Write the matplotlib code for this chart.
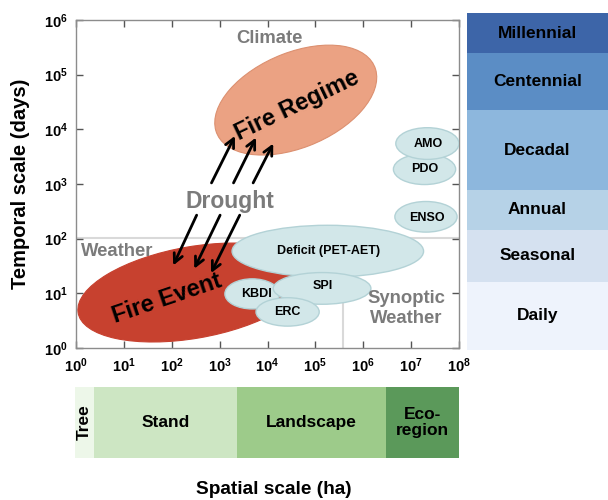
import matplotlib
matplotlib.use('Agg')
import matplotlib.pyplot as plt
from matplotlib.patches import Ellipse

plt.rcParams['font.family'] = ['Liberation Sans', 'DejaVu Sans']
plt.rcParams['font.weight'] = 'bold'
plt.rcParams['mathtext.fontset'] = 'custom'
plt.rcParams['mathtext.rm'] = 'Liberation Sans:bold'
plt.rcParams['mathtext.it'] = 'Liberation Sans:bold'
plt.rcParams['mathtext.bf'] = 'Liberation Sans:bold'

# log10 of spatial scale (ha) and temporal scale (days)
x_decades = list(range(0, 9))
y_decades = list(range(0, 7))

# fire ellipses: centre, extent (decades) and tilt
fire_names = ['Fire Event', 'Fire Regime']
fire_x = [2.445, 4.59]
fire_y = [1.015, 4.535]
fire_w = [4.86, 3.52]
fire_h = [1.68, 1.76]
fire_ang = [8.5, 18.6]
fire_label_x = [1.90, 4.61]
fire_label_y = [0.91, 4.44]
fire_label_rot = [18.7, 25.5]

# drought indices / climate modes
idx_names = ['Deficit (PET-AET)', 'KBDI', 'SPI', 'ERC', 'ENSO', 'PDO', 'AMO']
idx_x = [5.26, 3.68, 5.14, 4.42, 7.31, 7.28, 7.34]
idx_y = [1.77, 0.99, 1.09, 0.66, 2.40, 3.27, 3.74]
idx_w = [4.00, 1.14, 2.04, 1.32, 1.30, 1.30, 1.32]
idx_h = [0.95, 0.55, 0.58, 0.52, 0.56, 0.56, 0.58]
idx_label_x = [5.27, 3.76, 5.15, 4.41, 7.32, 7.28, 7.35]
idx_label_y = [1.77, 0.98, 1.13, 0.65, 2.37, 3.27, 3.73]

# drought arrows (log10 ha, log10 days)
up_x0 = [2.83, 3.29, 3.70]
up_y0 = [3.02, 3.02, 3.02]
up_x1 = [3.32, 3.76, 4.12]
up_y1 = [3.88, 3.85, 3.74]
down_x0 = [2.52, 3.01, 3.42]
down_y0 = [2.43, 2.43, 2.43]
down_x1 = [2.03, 2.47, 2.82]
down_y1 = [1.51, 1.45, 1.37]

# domain boundaries
weather_climate_y = 2.02
synoptic_x = 5.57

# temporal bands
time_names = ['Daily', 'Seasonal', 'Annual', 'Decadal', 'Centennial', 'Millennial']
time_edges = [-0.037, 1.21, 2.16, 2.89, 4.35, 5.39, 6.128]
time_colors = ['#eef3fc', '#d5e1f0', '#b6d2e7', '#8db7dd', '#5b8dc5', '#3d65a8']

# spatial bands
space_names = ['Tree', 'Stand', 'Landscape', 'Eco-\nregion']
space_edges = [-0.02, 0.38, 3.36, 6.47, 8.0]
space_colors = ['#edf7e9', '#cde6c3', '#9dcb8a', '#5b995a']

gray = '#7b7b7b'
blue_fill = '#d2e7e9'
blue_edge = '#b3d2d6'

fig = plt.figure(figsize=(6.08, 5.0), dpi=100)

# right temporal bar
ax2 = fig.add_axes([0.768, 0.30, 0.232, 0.674])
for i, name in enumerate(time_names):
    lo, hi = time_edges[i], time_edges[i + 1]
    ax2.bar(0.5, hi - lo, bottom=lo, width=1, color=time_colors[i], edgecolor='none')
    ax2.text(0.5, (lo + hi) / 2, name, ha='center', va='center', fontsize=12.5,
             fontweight='bold', color='black')
ax2.set_xlim(0, 1)
ax2.set_ylim(time_edges[0], time_edges[-1])
ax2.axis('off')

# bottom spatial bar
ax3 = fig.add_axes([75 / 608, 0.084, 384 / 608, 0.142])
for i, name in enumerate(space_names):
    lo, hi = space_edges[i], space_edges[i + 1]
    ax3.barh(0.5, hi - lo, left=lo, height=1, color=space_colors[i], edgecolor='none')
    ax3.text((lo + hi) / 2, 0.5, name, ha='center', va='center', fontsize=12.5,
             fontweight='bold', rotation=90 if name == 'Tree' else 0,
             linespacing=1.15)
ax3.set_xlim(space_edges[0], space_edges[-1])
ax3.set_ylim(0, 1)
ax3.axis('off')
fig.text(0.451, 0.021, 'Spatial scale (ha)', ha='center', va='center',
         fontsize=13.7, fontweight='bold')

# main scale diagram
ax = fig.add_axes([76 / 608, 0.304, 383 / 608, 0.656])
ax.set_xlim(0, 8)
ax.set_ylim(0, 6)

ax.plot([0, 8], [weather_climate_y, weather_climate_y], color='#d9d9d9', lw=1.5, zorder=1)
ax.plot([synoptic_x, synoptic_x], [0, weather_climate_y], color='#d9d9d9', lw=1.5, zorder=1)

fire_colors = ['#c7412f', '#eba283']
fire_edges = ['#c7412f', '#dc9070']
for i, name in enumerate(fire_names):
    ax.add_patch(Ellipse((fire_x[i], fire_y[i]), fire_w[i], fire_h[i], angle=fire_ang[i],
                         facecolor=fire_colors[i], edgecolor=fire_edges[i], lw=0.8, zorder=2))
    ax.text(fire_label_x[i], fire_label_y[i], name, rotation=fire_label_rot[i],
            ha='center', va='center', fontsize=17, fontweight='bold',
            rotation_mode='anchor', zorder=6)

for i, name in enumerate(idx_names):
    ax.add_patch(Ellipse((idx_x[i], idx_y[i]), idx_w[i], idx_h[i],
                         facecolor=blue_fill, edgecolor=blue_edge, lw=1, zorder=3))
    ax.text(idx_label_x[i], idx_label_y[i], name, ha='center', va='center',
            fontsize=9, fontweight='bold', zorder=6)

arrow_kw = dict(arrowstyle='->', lw=2, color='black', mutation_scale=16,
                shrinkA=0, shrinkB=0)
for i in range(len(up_x0)):
    ax.annotate('', xy=(up_x1[i], up_y1[i]), xytext=(up_x0[i], up_y0[i]),
                arrowprops=arrow_kw, zorder=4)
    ax.annotate('', xy=(down_x1[i], down_y1[i]), xytext=(down_x0[i], down_y0[i]),
                arrowprops=arrow_kw, zorder=4)

ax.text(4.05, 5.66, 'Climate', ha='center', va='center', fontsize=13.3, color=gray, fontweight='bold')
ax.text(0.86, 1.76, 'Weather', ha='center', va='center', fontsize=13.3, color=gray, fontweight='bold')
ax.text(6.9, 0.72, 'Synoptic\nWeather', ha='center', va='center', fontsize=13.3, color=gray,
        fontweight='bold', zorder=6)
ax.text(3.21, 2.68, 'Drought', ha='center', va='center', fontsize=16.5, color=gray, fontweight='bold')

ax.set_xticks(x_decades)
ax.set_xticklabels([f'$10^{{{d}}}$' for d in x_decades])
ax.set_yticks(y_decades)
ax.set_yticklabels([f'$10^{{{d}}}$' for d in y_decades])
ax.tick_params(direction='in', top=True, right=True, length=5, width=1, color='#555555',
               labelsize=10.5, pad=6)
for s in ax.spines.values():
    s.set_color('#8c8c8c')
    s.set_linewidth(1)
ax.set_ylabel('Temporal scale (days)', fontsize=14.5, fontweight='bold', labelpad=10)

fig.savefig('out.png', dpi=100)
